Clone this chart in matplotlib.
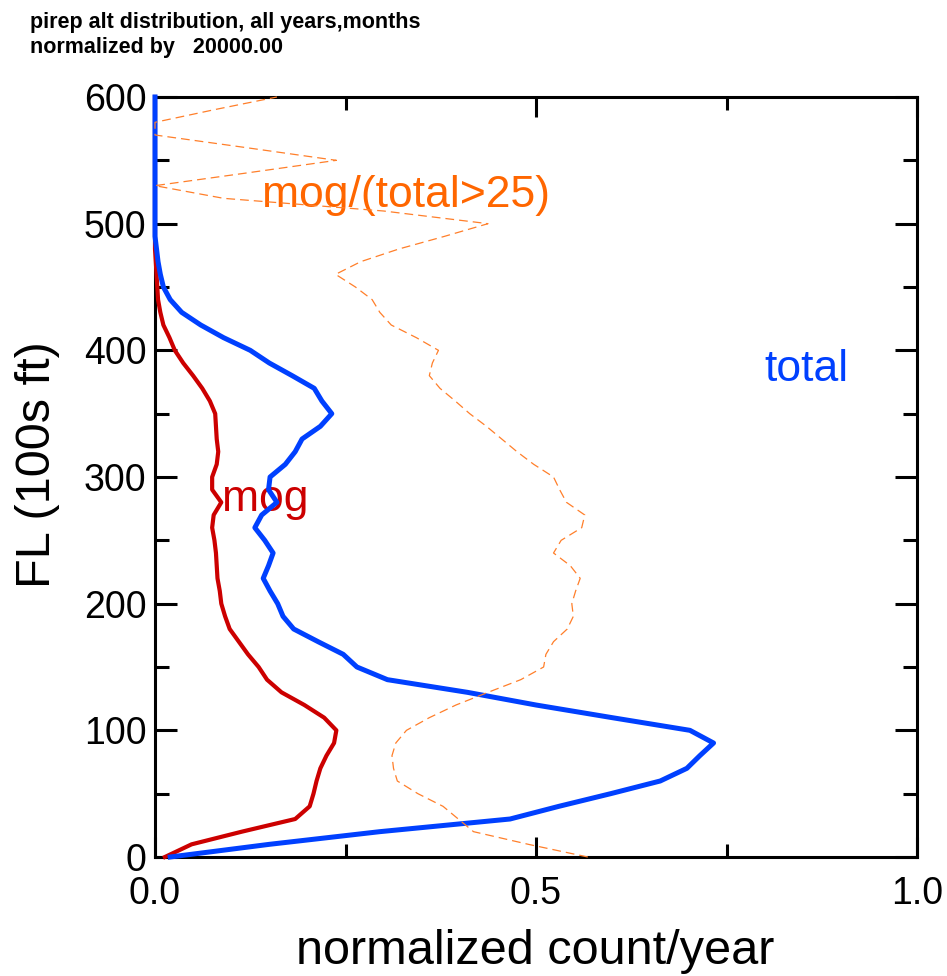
import matplotlib
matplotlib.use('Agg')
import matplotlib.pyplot as plt
from matplotlib.ticker import MultipleLocator, FormatStrFormatter

# Flight level bins (100s ft)
fl = list(range(0, 601, 10))

# total pireps (normalized count/year)
total = [0.020, 0.150, 0.295, 0.466, 0.530, 0.598, 0.663, 0.698, 0.715, 0.733,
         0.702, 0.600, 0.500, 0.410, 0.305, 0.265, 0.247, 0.214, 0.182, 0.168,
         0.161, 0.151, 0.142, 0.149, 0.155, 0.144, 0.131, 0.140, 0.160, 0.149,
         0.151, 0.171, 0.184, 0.193, 0.217, 0.232, 0.219, 0.209, 0.180, 0.150,
         0.125, 0.090, 0.060, 0.035, 0.020, 0.011, 0.007, 0.004, 0.002, 0.0,
         0.0, 0.0, 0.0, 0.0, 0.0, 0.0, 0.0, 0.0, 0.0, 0.0, 0.0]

# mog pireps (normalized count/year)
mog = [0.013, 0.048, 0.114, 0.184, 0.203, 0.208, 0.212, 0.217, 0.225, 0.235,
       0.238, 0.222, 0.196, 0.166, 0.147, 0.136, 0.122, 0.110, 0.098, 0.092,
       0.087, 0.085, 0.082, 0.081, 0.080, 0.078, 0.075, 0.077, 0.087, 0.075,
       0.075, 0.081, 0.083, 0.081, 0.080, 0.079, 0.072, 0.062, 0.050, 0.037,
       0.026, 0.019, 0.011, 0.007, 0.004, 0.003, 0.002, 0.001, 0.0, 0.0,
       0.0, 0.0, 0.0, 0.0, 0.0, 0.0, 0.0, 0.0, 0.0, 0.0, 0.0]

# ratio mog/(total>25)
ratio = [0.568, 0.490, 0.418, 0.398, 0.378, 0.345, 0.318, 0.313, 0.311, 0.316,
         0.330, 0.360, 0.395, 0.437, 0.480, 0.510, 0.513, 0.523, 0.541, 0.549,
         0.547, 0.552, 0.558, 0.545, 0.523, 0.533, 0.560, 0.564, 0.540, 0.531,
         0.523, 0.497, 0.475, 0.455, 0.435, 0.413, 0.394, 0.374, 0.360, 0.364,
         0.372, 0.343, 0.310, 0.295, 0.285, 0.263, 0.237, 0.270, 0.320, 0.380,
         0.437, 0.300, 0.090, 0.0, 0.120, 0.238, 0.120, 0.0, 0.0, 0.078, 0.160]

x_ticks = [0.0, 0.5, 1.0]
y_ticks = [0, 100, 200, 300, 400, 500, 600]

title1 = "pirep alt distribution, all years,months"
title2 = "normalized by   20000.00"

FONT = ['Liberation Sans', 'DejaVu Sans']
plt.rcParams['font.family'] = FONT

BLUE = '#0040ff'
RED = '#cc0000'
ORANGE = '#ff7f2a'
ORANGE_TXT = '#ff6600'

fig = plt.figure(figsize=(9.47, 9.76), dpi=100)
ax = fig.add_axes([155/947, 119/976, 762/947, 760/976])

ax.plot(ratio, fl, color=ORANGE, lw=0.9, dashes=(7, 4), zorder=4, clip_on=False)
ax.plot(mog, fl, color=RED, lw=3.0, zorder=3, clip_on=False)
ax.plot(total, fl, color=BLUE, lw=3.6, zorder=3.5, clip_on=False)

ax.set_xlim(0, 1)
ax.set_ylim(0, 600)
ax.set_xticks(x_ticks)
ax.set_yticks(y_ticks)
ax.xaxis.set_major_formatter(FormatStrFormatter('%.1f'))
ax.xaxis.set_minor_locator(MultipleLocator(0.25))
ax.yaxis.set_minor_locator(MultipleLocator(50))

for s in ax.spines.values():
    s.set_linewidth(2.2)

ax.tick_params(axis='both', which='both', direction='in', top=True, right=True,
               width=2.2, labelsize=27)
ax.tick_params(axis='x', which='major', length=14.5, pad=14)
ax.tick_params(axis='x', which='minor', length=9.5)
ax.tick_params(axis='y', which='major', length=16, pad=6)
ax.tick_params(axis='y', which='minor', length=10)

fig.text(535/947, 1 - 951/976, 'normalized count/year', ha='center', va='center', fontsize=35)
fig.text(37/947, 1 - 465/976, 'FL (100s ft)', ha='center', va='center', rotation=90, fontsize=35)

ax.text(0.140, 522, 'mog/(total>25)', color=ORANGE_TXT, fontsize=32, ha='left', va='center')
ax.text(0.088, 282, 'mog', color=RED, fontsize=32, ha='left', va='center')
ax.text(0.800, 385, 'total', color=BLUE, fontsize=32, ha='left', va='center')

fig.text(30/947, 1 - 12/976, title1, fontsize=15.5, fontweight='bold', ha='left', va='top')
fig.text(30/947, 1 - 37/976, title2, fontsize=15.5, fontweight='bold', ha='left', va='top')

fig.savefig('out.png', dpi=100)
